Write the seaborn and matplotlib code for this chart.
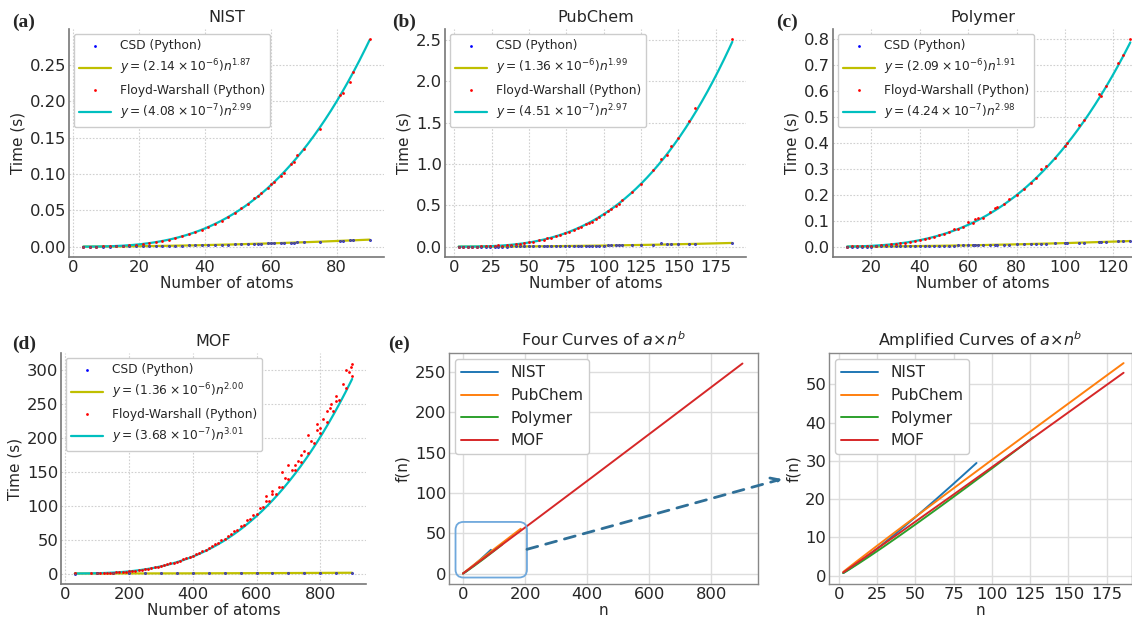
import numpy as np
import pandas as pd
import matplotlib
matplotlib.use("Agg")
import matplotlib.pyplot as plt
import seaborn as sns
from matplotlib.patches import FancyBboxPatch, ConnectionPatch
from matplotlib.transforms import IdentityTransform

# ---------------- data ----------------
datasets = ["NIST", "PubChem", "Polymer", "MOF"]
# fitted parameters y = a * n^b  (CSD, Floyd-Warshall)
csd_a = [2.14e-6, 1.36e-6, 2.09e-6, 1.36e-6]
csd_b = [1.87, 1.99, 1.91, 2.00]
fw_a = [4.08e-7, 4.51e-7, 4.24e-7, 3.68e-7]
fw_b = [2.99, 2.97, 2.98, 3.01]
n_min = [3, 3, 10, 30]
n_max = [90, 186, 127, 900]

nist_n = [3, 5, 7, 9, 11, 13, 15, 17, 19, 21, 23, 25, 27, 29, 31, 33, 35, 37, 39, 41, 43, 45, 47, 49,
          51, 53, 55, 56, 57, 59, 60, 61, 63, 64, 66, 67, 68, 70, 75, 81, 82, 84, 85, 90]
nist_fw = [1.1e-5, 5.0e-5, 1.4e-4, 2.9e-4, 5.3e-4, 8.7e-4, 0.00134, 0.00195, 0.00272, 0.00366, 0.00481,
           0.00617, 0.00777, 0.00962, 0.0118, 0.0142, 0.0169, 0.0199, 0.0233, 0.0271, 0.0313, 0.0358,
           0.0408, 0.0462, 0.0525, 0.0584, 0.0665, 0.0700, 0.0735, 0.0804, 0.0860, 0.0889, 0.0975,
           0.1010, 0.1140, 0.1170, 0.1260, 0.1342, 0.1620, 0.2080, 0.2110, 0.2270, 0.2398, 0.2850]
nist_csd = [1.7e-5, 4.3e-5, 8.1e-5, 1.3e-4, 1.9e-4, 2.6e-4, 3.4e-4, 4.3e-4, 5.3e-4, 6.4e-4, 7.5e-4,
            8.8e-4, 0.00102, 0.00116, 0.00132, 0.00148, 0.00165, 0.00183, 0.00202, 0.00222, 0.00243,
            0.00264, 0.00287, 0.00310, 0.00334, 0.00359, 0.00385, 0.00398, 0.00411, 0.00438, 0.00452,
            0.00466, 0.00495, 0.00510, 0.00541, 0.00556, 0.00572, 0.00604, 0.00687, 0.00793, 0.00811,
            0.00849, 0.00868, 0.00966]

pub_n = [3, 6, 9, 12, 15, 18, 21, 24, 27, 29, 32, 35, 38, 41, 44, 47, 50, 53, 57, 60, 62, 65, 68, 71,
         74, 77, 80, 83, 85, 88, 90, 92, 95, 97, 100, 103, 105, 108, 110, 112, 119, 125, 133, 138, 142,
         145, 150, 157, 161, 186]
pub_fw = [1.2e-5, 9.2e-5, 3.1e-4, 7.2e-4, 0.0014, 0.0024, 0.0038, 0.0057, 0.0080, 0.0190, 0.0133,
          0.0174, 0.0222, 0.0278, 0.0343, 0.0417, 0.0502, 0.0596, 0.0800, 0.0861, 0.1000, 0.1093,
          0.1249, 0.1420, 0.1606, 0.1808, 0.2024, 0.2258, 0.2400, 0.2687, 0.2874, 0.3000, 0.3374,
          0.3589, 0.3900, 0.4289, 0.4540, 0.4936, 0.5215, 0.5600, 0.6586, 0.7620, 0.9300, 1.0600,
          1.1132, 1.2200, 1.3100, 1.5200, 1.6800, 2.5100]
pub_csd = [1.2e-5, 4.9e-5, 1.08e-4, 1.91e-4, 2.98e-4, 4.28e-4, 5.82e-4, 7.59e-4, 9.60e-4, 0.00111,
           0.00135, 0.00161, 0.00189, 0.00220, 0.00254, 0.00289, 0.00327, 0.00367, 0.00425, 0.00470,
           0.00502, 0.00551, 0.00603, 0.00657, 0.00713, 0.00772, 0.00833, 0.00897, 0.00940, 0.01007,
           0.01053, 0.01100, 0.01172, 0.01222, 0.01299, 0.01378, 0.01431, 0.01514, 0.01570, 0.01628,
           0.01836, 0.02026, 0.02291, 0.04000, 0.02609, 0.02721, 0.02911, 0.03187, 0.03351, 0.04464]

poly_n = [10, 12, 14, 16, 18, 20, 22, 24, 26, 28, 30, 32, 34, 36, 38, 40, 42, 44, 46, 48, 50, 52, 54,
          56, 58, 60, 62, 63, 64, 66, 69, 71, 72, 75, 77, 80, 83, 86, 88, 90, 92, 96, 100, 101, 106,
          108, 114, 115, 117, 122, 124, 127]
poly_fw = [4.1e-4, 7.0e-4, 0.0011, 0.00164, 0.00233, 0.00319, 0.00424, 0.0055, 0.00698, 0.00871,
           0.0107, 0.01296, 0.01553, 0.01842, 0.02164, 0.02522, 0.02914, 0.03347, 0.03821, 0.04342,
           0.04903, 0.0551, 0.0680, 0.06869, 0.07625, 0.0950, 0.09305, 0.1050, 0.1100, 0.11214,
           0.1350, 0.1480, 0.1550, 0.1650, 0.1850, 0.1988, 0.2220, 0.2467, 0.2641, 0.3000, 0.3100,
           0.3426, 0.3869, 0.4000, 0.4700, 0.4900, 0.5900, 0.5800, 0.6200, 0.7100, 0.7400, 0.8000]
poly_csd = [1.70e-4, 2.41e-4, 3.23e-4, 4.17e-4, 5.22e-4, 6.38e-4, 7.66e-4, 9.04e-4, 0.00105, 0.00121,
            0.00138, 0.00157, 0.00176, 0.00196, 0.00217, 0.00240, 0.00263, 0.00288, 0.00313, 0.00340,
            0.00367, 0.00396, 0.00426, 0.00456, 0.00488, 0.00520, 0.00554, 0.00571, 0.00589, 0.00624,
            0.00680, 0.00718, 0.00738, 0.00797, 0.00838, 0.00902, 0.00968, 0.01035, 0.01082, 0.01129,
            0.01178, 0.01277, 0.01380, 0.01407, 0.01543, 0.01600, 0.01773, 0.01803, 0.01864, 0.02019,
            0.02083, 0.02179]

mof_n = [30, 80, 100, 110, 120, 130, 140, 150, 160, 170, 180, 190, 200, 210, 220, 230, 240, 250, 260,
         270, 280, 290, 300, 310, 320, 330, 340, 350, 360, 370, 380, 390, 400, 410, 420, 430, 440, 450,
         460, 470, 480, 490, 500, 510, 520, 530, 540, 550, 560, 570, 580, 590, 600, 610, 620, 630, 640,
         650, 660, 670, 680, 690, 700, 710, 720, 730, 740, 750, 760, 770, 780, 790, 800, 810, 820, 830,
         840, 850, 860, 870, 880, 890, 900,
         630, 680, 700, 740, 760, 800, 820, 850, 880, 895, 900, 650, 720, 790, 835]
mof_fw = [0.01, 0.2, 0.4, 0.52, 0.68, 0.86, 1.08, 1.32, 1.6, 1.92, 2.3, 2.7, 3.2, 3.8, 4.3, 5.0, 5.6,
          6.4, 7.1, 8.1, 8.9, 10.0, 11.0, 12.3, 13.3, 14.8, 16.0, 17.7, 19.1, 20.9, 22.4, 24.5, 26.2,
          28.6, 30.3, 33.0, 34.9, 37.9, 39.9, 43.3, 45.4, 49.2, 51.4, 55.6, 57.9, 62.6, 64.6, 70.2,
          72.0, 78.4, 80.0, 87.0, 88.5, 96.4, 97.6, 106.3, 107.2, 117.0, 117.4, 128.3, 128.2, 140.5,
          140.0, 153.3, 152.1, 166.8, 164.9, 181.0, 178.5, 196.0, 192.6, 211.5, 207.3, 227.5, 223.0,
          244.5, 239.6, 262.0, 256.5, 280.0, 274.0, 298.0, 292.0,
          115.0, 150.0, 160.0, 175.0, 205.0, 215.0, 240.0, 255.0, 300.0, 305.0, 310.0, 122.0, 160.0,
          220.0, 250.0]
mof_csd_n = [30, 100, 150, 200, 250, 300, 350, 400, 450, 500, 550, 600, 650, 700, 750, 800, 850, 900]
mof_csd = [0.0012, 0.014, 0.031, 0.054, 0.085, 0.122, 0.167, 0.218, 0.275, 0.34, 0.41, 0.49, 0.575,
           0.667, 0.765, 0.87, 0.98, 1.10]

# tick positions
x_ticks = [[0, 20, 40, 60, 80], [0, 25, 50, 75, 100, 125, 150, 175], [20, 40, 60, 80, 100, 120],
           [0, 200, 400, 600, 800]]
y_ticks = [[0.0, 0.05, 0.10, 0.15, 0.20, 0.25], [0.0, 0.5, 1.0, 1.5, 2.0, 2.5],
           [0.0, 0.1, 0.2, 0.3, 0.4, 0.5, 0.6, 0.7, 0.8], [0, 50, 100, 150, 200, 250, 300]]
y_fmt = ["{:.2f}", "{:.1f}", "{:.1f}", "{:.0f}"]

# ---------------- style ----------------
sns.set_theme(style="whitegrid")
plt.rcParams["font.family"] = ["DejaVu Sans"]
plt.rcParams["legend.edgecolor"] = "#cccccc"

YEL = (0.75, 0.75, 0.0)
CYA = (0.0, 0.75, 0.75)

W, H = 1132, 620
fig = plt.figure(figsize=(W / 100, H / 100), dpi=100)
fig.patch.set_facecolor("white")


def px_axes(l, t, r, b):
    return fig.add_axes([l / W, 1 - b / H, (r - l) / W, (b - t) / H])


def fmt_label(a, b):
    mant, ex = f"{a:.2e}".split("e")
    return rf"$y = ({mant} \times 10^{{{int(ex)}}})n^{{{b:.2f}}}$"


def style_top(ax):
    ax.set_facecolor("white")
    ax.grid(True, linestyle=(0, (1.5, 1.5)), color="#d0d0d0", linewidth=0.8)
    for s in ["top", "right"]:
        ax.spines[s].set_visible(False)
    for s in ["left", "bottom"]:
        ax.spines[s].set_color("#777777")
        ax.spines[s].set_linewidth(1.2)
    ax.tick_params(labelsize=11.8, pad=2, length=0)


panel_data = [
    (nist_n, nist_csd, nist_n, nist_fw),
    (pub_n, pub_csd, pub_n, pub_fw),
    (poly_n, poly_csd, poly_n, poly_fw),
    (mof_csd_n, mof_csd, mof_n, mof_fw),
]
rects = [(69, 29, 384, 257), (445, 29, 746, 257), (833, 29, 1132, 257), (61, 353, 366, 584)]
letters = ["(a)", "(b)", "(c)", "(d)"]
letter_pos = [(12, 22), (392, 22), (776, 22), (12, 344)]

for i, name in enumerate(datasets):
    ax = px_axes(*rects[i])
    style_top(ax)
    cn, cy, fn, fy = panel_data[i]
    nfit = np.linspace(n_min[i], n_max[i], 200)
    df_c = pd.DataFrame({"n": cn, "t": cy})
    df_f = pd.DataFrame({"n": fn, "t": fy})
    df_cf = pd.DataFrame({"n": nfit, "t": csd_a[i] * nfit ** csd_b[i]})
    df_ff = pd.DataFrame({"n": nfit, "t": fw_a[i] * nfit ** fw_b[i]})
    sns.scatterplot(data=df_c, x="n", y="t", ax=ax, color="blue", s=4, linewidth=0,
                    label="CSD (Python)", zorder=3)
    sns.lineplot(data=df_cf, x="n", y="t", ax=ax, color=YEL, linewidth=1.6,
                 label=fmt_label(csd_a[i], csd_b[i]), estimator=None, sort=False, zorder=2)
    sns.scatterplot(data=df_f, x="n", y="t", ax=ax, color="red", s=4, linewidth=0,
                    label="Floyd-Warshall (Python)", zorder=3)
    sns.lineplot(data=df_ff, x="n", y="t", ax=ax, color=CYA, linewidth=1.6,
                 label=fmt_label(fw_a[i], fw_b[i]), estimator=None, sort=False, zorder=2)
    # grey overlay of the measured points
    ax.scatter(cn, cy, s=2, color="#666666", linewidths=0, zorder=4)
    h, l = ax.get_legend_handles_labels()
    order = [l.index("CSD (Python)"), l.index(fmt_label(csd_a[i], csd_b[i])),
             l.index("Floyd-Warshall (Python)"), l.index(fmt_label(fw_a[i], fw_b[i]))]
    ax.legend([h[k] for k in order], [l[k] for k in order], loc="upper left", fontsize=8.8,
              frameon=True, framealpha=1, markerscale=1.0, borderaxespad=0.4,
              labelspacing=0.5, handlelength=2.6)
    ax.set_xticks(x_ticks[i])
    ax.set_yticks(y_ticks[i])
    ax.set_yticklabels([y_fmt[i].format(v) for v in y_ticks[i]])
    ax.set_title(name, fontsize=11.5, pad=5)
    ax.set_xlabel("Number of atoms", fontsize=11, labelpad=1)
    ax.set_ylabel("Time (s)", fontsize=11, labelpad=3)
    if i == 2:
        ax.set_xlim(4.15, 127.7)
    fig.text(letter_pos[i][0] / W, 1 - letter_pos[i][1] / H, letters[i], fontsize=14,
             fontweight="bold", family="Liberation Serif", va="center", ha="left")

# ---------------- panel (e) ----------------
pal = sns.color_palette("tab10", 4)


def style_bottom(ax):
    ax.set_facecolor("white")
    ax.grid(True, linestyle="-", color="#dddddd", linewidth=1.0)
    for s in ax.spines.values():
        s.set_visible(True)
        s.set_color("#888888")
        s.set_linewidth(1.0)
    ax.tick_params(labelsize=11.8, pad=2, length=0)


ax_e = px_axes(449, 353, 758, 584)
style_bottom(ax_e)
for i, name in enumerate(datasets):
    nn = np.linspace(0, n_max[i], 300)
    ratio = (fw_a[i] / csd_a[i]) * nn ** (fw_b[i] - csd_b[i])
    sns.lineplot(x=nn, y=ratio, ax=ax_e, color=pal[i], linewidth=1.4, label=name,
                 estimator=None, sort=False)
ax_e.set_xlim(-45, 950)
ax_e.set_xticks([0, 200, 400, 600, 800])
ax_e.set_yticks([0, 50, 100, 150, 200, 250])
ax_e.legend(loc="upper left", fontsize=11, frameon=True, framealpha=1, borderaxespad=0.4,
            labelspacing=0.5, handlelength=2.4)
ax_e.set_title(r"Four Curves of $a{\times}n^{b}$", fontsize=11.5, pad=5)
ax_e.set_xlabel("n", fontsize=11, labelpad=1)
ax_e.set_ylabel("f(n)", fontsize=11, labelpad=3)
fig.text(388 / W, 1 - 344 / H, "(e)", fontsize=14, fontweight="bold", family="Liberation Serif",
         va="center", ha="left")

ax_f = px_axes(829, 353, 1132, 584)
style_bottom(ax_f)
amp_max = [90, 186, 127, 186]
for i, name in enumerate(datasets):
    nn = np.linspace(3, amp_max[i], 300)
    ratio = (fw_a[i] / csd_a[i]) * nn ** (fw_b[i] - csd_b[i])
    sns.lineplot(x=nn, y=ratio, ax=ax_f, color=pal[i], linewidth=1.4, label=name,
                 estimator=None, sort=False)
ax_f.set_xlim(-6.3, 191.5)
ax_f.set_ylim(-2.2, 58.2)
ax_f.set_xticks([0, 25, 50, 75, 100, 125, 150, 175])
ax_f.set_yticks([0, 10, 20, 30, 40, 50])
ax_f.legend(loc="upper left", fontsize=11, frameon=True, framealpha=1, borderaxespad=0.4,
            labelspacing=0.5, handlelength=2.4)
ax_f.set_title(r"Amplified Curves of $a{\times}n^{b}$", fontsize=11.5, pad=5)
ax_f.set_xlabel("n", fontsize=11, labelpad=1)
ax_f.set_ylabel("f(n)", fontsize=11, labelpad=3)

# zoom box and dashed arrow
fig.canvas.draw()
p0 = ax_e.transData.transform((-24, -5))
p1 = ax_e.transData.transform((206, 64))
box = FancyBboxPatch((p0[0], p0[1]), p1[0] - p0[0], p1[1] - p0[1],
                     boxstyle="round,pad=0,rounding_size=8", transform=IdentityTransform(),
                     fill=False, edgecolor="#6fa8dc", linewidth=1.3, zorder=10)
fig.add_artist(box)
arrow = ConnectionPatch(xyA=(206, 30), coordsA=ax_e.transData,
                        xyB=(782 / W, 1 - 479 / H), coordsB=fig.transFigure,
                        arrowstyle="->,head_length=0.6,head_width=0.3", linestyle=(0, (4, 3)),
                        color="#2f6f97", linewidth=2.0, zorder=10)
fig.add_artist(arrow)

fig.savefig("out.png", dpi=100, facecolor="white")
